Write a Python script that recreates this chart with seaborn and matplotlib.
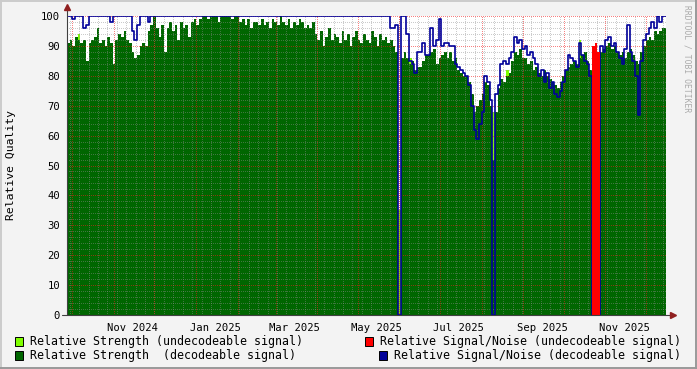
import numpy as np
import pandas as pd
import matplotlib
matplotlib.use("Agg")
import matplotlib.pyplot as plt
import matplotlib.dates as mdates
from matplotlib.patches import Rectangle
from matplotlib.lines import Line2D
import seaborn as sns

# ---------------- data (one sample every 2 days from start) ----------------
start_date = "2024-09-27"
end_date = "2025-12-16"
step = "2D"
nan = np.nan

strength_dec = [
    91, 92, 90, 93, 92, 91, 92, 85, 91, 92,
    93, 96, 91, 92, 90, 93, 91, 84, 92, 94,
    93, 95, 92, 91, 88, 86, 87, 90, 91, 90,
    95, 97, 100, 96, 93, 97, 88, 96, 98, 95,
    97, 92, 98, 96, 97, 93, 98, 99, 97, 99,
    100, 100, 99, 100, 100, 100, 98, 100, 100, 100,
    100, 99, 100, 100, 98, 99, 97, 99, 96, 98,
    98, 97, 99, 97, 98, 96, 99, 98, 97, 100,
    98, 97, 99, 96, 98, 97, 99, 98, 96, 97,
    96, 98, 94, 92, 95, 90, 93, 96, 92, 94,
    93, 91, 95, 92, 94, 90, 93, 95, 92, 91,
    94, 92, 91, 95, 93, 90, 94, 92, 93, 91,
    92, 90, 88, 0, 86, 88, 86, 84, 85, 82,
    83, 83, 85, 87, 87, 88, 89, 84, 86, 87,
    88, 86, 88, 85, 86, 82, 81, 80, 80, 78,
    74, 68, 70, 72, 74, 78, 77, 70, 52, 68,
    76, 79, 78, 80, 81, 85, 88, 87, 89, 86,
    86, 84, 85, 82, 83, 81, 80, 82, 80, 79,
    78, 77, 76, 78, 80, 82, 83, 84, 85, 84,
    86, 87, 88, 85, 82, 0, 0, 0, 88, 89,
    90, 91, 89, 90, 88, 87, 88, 86, 88, 89,
    87, 85, 84, 88, 90, 92, 93, 92, 95, 94,
    95, 96, 96]

strength_undec = [0] * 223
for idx, val in [(4, 94), (123, 35), (158, 68), (190, 92), (127, 86), (163, 82)]:
    strength_undec[idx] = val

snr_dec = [
    100, 100, 99, 100, 100, 100, 96, 97, 100, 100,
    100, 100, 100, 100, 100, 100, 98, 100, 100, 100,
    100, 100, 100, 100, 95, 92, 97, 100, 100, 100,
    98, 100, 100, 100, 100, 100, 100, 100, 100, 100,
    100, 100, 100, 100, 100, 100, 100, 100, 100, 100,
    100, 100, 100, 100, 100, 100, 100, 100, 100, 100,
    100, 100, 100, 100, 100, 100, 100, 100, 100, 100,
    100, 100, 100, 100, 100, 100, 100, 100, 100, 100,
    100, 100, 100, 100, 100, 100, 100, 100, 100, 100,
    100, 100, 100, 100, 100, 100, 100, 100, 100, 100,
    100, 100, 100, 100, 100, 100, 100, 100, 100, 100,
    100, 100, 100, 100, 100, 100, 100, 100, 100, 100,
    96, 96, 97, 0, 100, 100, 94, 85, 84, 81,
    88, 88, 91, 87, 87, 96, 90, 92, 99, 90,
    91, 91, 90, 90, 84, 83, 82, 81, 80, 77,
    70, 62, 59, 64, 68, 80, 78, 72, 0, 74,
    77, 84, 85, 84, 86, 88, 93, 91, 92, 89,
    90, 87, 88, 86, 84, 80, 82, 78, 81, 76,
    78, 74, 73, 75, 78, 82, 87, 86, 85, 83,
    91, 87, 85, 84, 80, 0, 0, 0, 90, 88,
    92, 93, 90, 91, 88, 86, 84, 89, 97, 88,
    85, 80, 67, 85, 92, 94, 96, 98, 96, 100,
    98, 100, 100]

snr_undec = [0] * 223
for idx, val in [(195, 90), (196, 91), (197, 88)]:
    snr_undec[idx] = val

# ---------------- frame ----------------
W, H = 697, 369
BG = "#F3F3F3"
sns.set_style("white")
plt.rcParams["font.family"] = ["DejaVu Sans Mono", "DejaVu Sans"]

dates = pd.date_range(start_date, periods=len(strength_dec), freq=step)
df = pd.DataFrame({"date": dates, "strength_dec": strength_dec,
                   "strength_undec": strength_undec, "snr_dec": snr_dec,
                   "snr_undec": snr_undec})
edges = list(dates) + [pd.Timestamp(end_date)]


def ext(vals):
    v = list(vals)
    return v + [v[-1]]


fig = plt.figure(figsize=(W / 100, H / 100), dpi=100, facecolor=BG)
L, R, T, B = 67, 666, 16, 315
ax = fig.add_axes([L / W, 1 - B / H, (R - L) / W, (B - T) / H])
ax.set_facecolor("white")

ax.fill_between(edges, ext(df["strength_undec"]), step="post", color="#80FF00", lw=0, zorder=1)
ax.fill_between(edges, ext(df["strength_dec"]), step="post", color="#006600", lw=0, zorder=2)
line_df = pd.DataFrame({"date": edges, "snr": ext(df["snr_dec"])})
sns.lineplot(data=line_df, x="date", y="snr", ax=ax, color="#000099", lw=1.2,
             drawstyle="steps-post", zorder=6)
ax.fill_between(edges, ext(df["snr_undec"]), step="post", color="#FF0000", lw=0, zorder=7)

ax.set_xlim(pd.Timestamp(start_date), pd.Timestamp(end_date))
ax.set_ylim(0, 100)
ax.set_xlabel("")
ax.set_ylabel("")

# grid (dotted, drawn over the areas like rrdtool)
grid_minor = (0.55, 0.55, 0.55, 0.45)
grid_major = (0.95, 0.1, 0.1, 0.55)
dash = (0, (1, 2))
gkw = dict(lw=0.72, ls=dash, zorder=5, antialiased=False)
for y in range(2, 100, 2):
    if y % 10 == 0:
        continue
    ax.axhline(y, color=grid_minor, **gkw)
for y in range(10, 101, 10):
    ax.axhline(y, color=grid_major, **gkw)
weeks = pd.date_range(start_date, end_date, freq="W-SUN")
for d in weeks:
    ax.axvline(d, color=grid_minor, **gkw)
months = pd.date_range("2024-10-01", end_date, freq="MS")
for d in months:
    ax.axvline(d, color=grid_major, **gkw)

for s in ax.spines.values():
    s.set_visible(False)
ax.set_xticks(months)
ax.set_xticklabels([])
ax.tick_params(axis="x", length=3, color=(1, 0, 0, 0.6), width=0.7, pad=2)
ax.set_yticks(range(0, 101, 10))
ax.set_yticklabels([str(v) for v in range(0, 101, 10)], fontsize=7.6, color="black")
ax.tick_params(axis="y", length=3, color="#404040", width=0.7, pad=2)

# axes with arrows
axis_col = "#404040"
ax.plot([0, 0], [0, 1.025], transform=ax.transAxes, color=axis_col, lw=0.8, clip_on=False, zorder=8)
ax.plot([-0.008, 1.01], [0, 0], transform=ax.transAxes, color=axis_col, lw=0.8, clip_on=False, zorder=8)
ax.plot([0], [1.03], marker="^", ms=4.5, color="#902020", transform=ax.transAxes, clip_on=False, zorder=9)
ax.plot([1.011], [0], marker=">", ms=4.5, color="#902020", transform=ax.transAxes, clip_on=False, zorder=9)

# month labels centred in the month
label_months = ["2024-11-15", "2025-01-15", "2025-03-15", "2025-05-15",
                "2025-07-15", "2025-09-15", "2025-11-15"]
label_texts = ["Nov 2024", "Jan 2025", "Mar 2025", "May 2025",
               "Jul 2025", "Sep 2025", "Nov 2025"]
xt = ax.get_xaxis_transform()
for d, t in zip(label_months, label_texts):
    ax.text(mdates.date2num(pd.Timestamp(d)), -0.045, t, transform=xt, ha="center",
            va="center", fontsize=7.6, color="black")

fig.text(11 / W, 1 - 165 / H, "Relative Quality", rotation=90, ha="center", va="center",
         fontsize=8.2, color="black")
fig.text(687 / W, 1 - 59 / H, "RRDTOOL / TOBI OETIKER", rotation=270, ha="center",
         va="center", fontsize=5.8, color="#AAAAAA")

# legend
leg = [(15, 341, "#80FF00", "Relative Strength (undecodeable signal)", 30),
       (15, 355, "#006600", "Relative Strength  (decodeable signal)", 30),
       (365, 341, "#FF0000", "Relative Signal/Noise (undecodeable signal)", 380),
       (379, 355, "#000099", "Relative Signal/Noise (decodeable signal)", 394)]
for x0, yc, col, txt, tx in leg:
    fig.patches.append(Rectangle((x0 / W, 1 - (yc + 4.5) / H), 8 / W, 9 / H,
                                 transform=fig.transFigure, facecolor=col,
                                 edgecolor="black", lw=0.7))
    fig.text(tx / W, 1 - yc / H, txt, ha="left", va="center", fontsize=8.35, color="black")

# frame shading
fig.add_artist(Line2D([0, 1], [1 - 0.5 / H, 1 - 0.5 / H], transform=fig.transFigure, color="#CBCBCB", lw=1.4))
fig.add_artist(Line2D([0.5 / W, 0.5 / W], [0, 1], transform=fig.transFigure, color="#CBCBCB", lw=1.4))
fig.add_artist(Line2D([1 - 0.7 / W, 1 - 0.7 / W], [0, 1], transform=fig.transFigure, color="#999999", lw=1.4))
fig.add_artist(Line2D([0, 1], [0.7 / H, 0.7 / H], transform=fig.transFigure, color="#999999", lw=1.4))

fig.savefig("out.png", dpi=100, facecolor=BG)
